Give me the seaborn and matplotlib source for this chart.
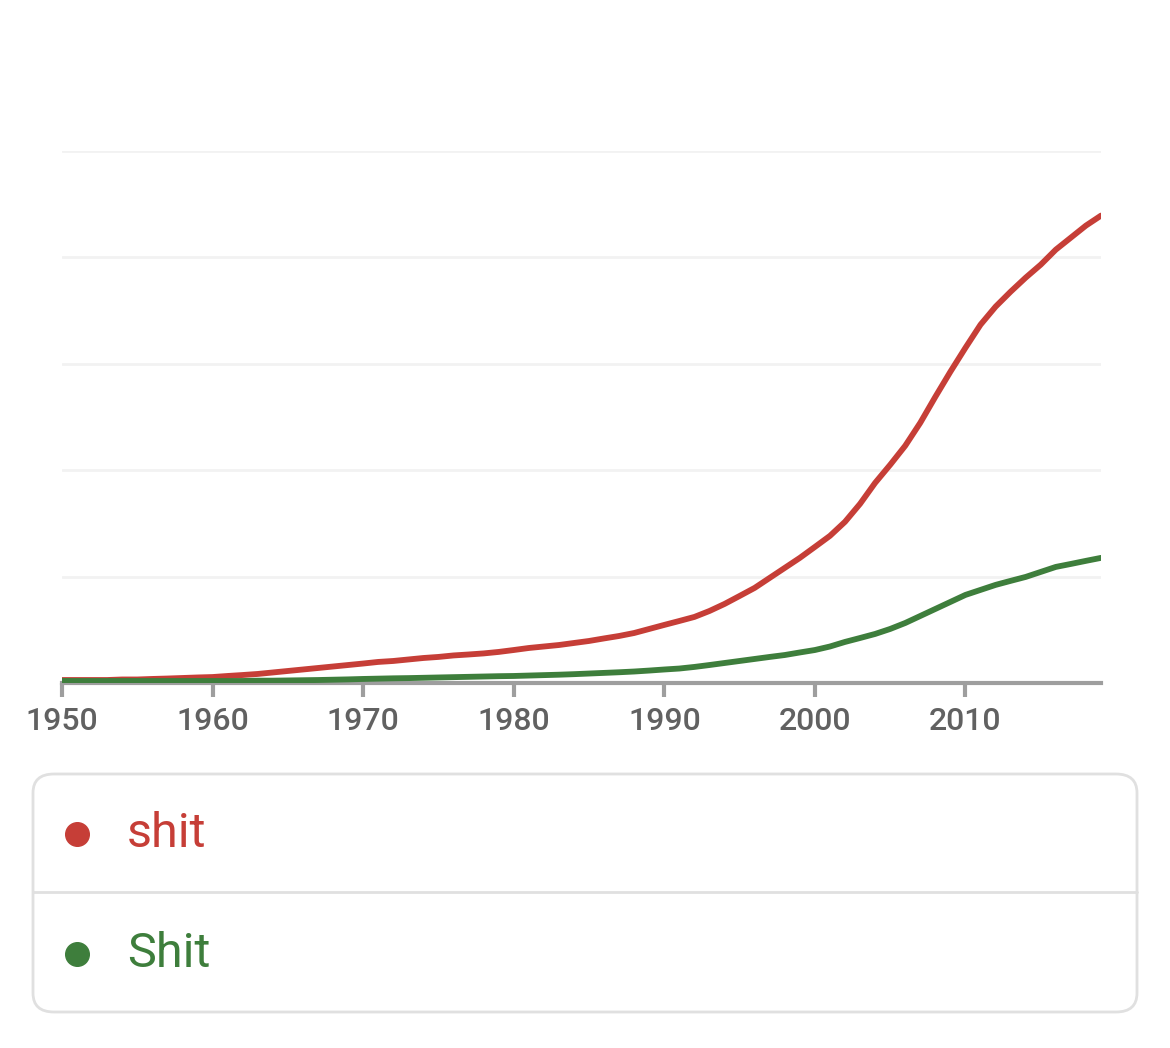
import matplotlib
matplotlib.use("Agg")
import matplotlib.pyplot as plt
from matplotlib.patches import FancyBboxPatch
from matplotlib.lines import Line2D
import seaborn as sns
import pandas as pd
import numpy as np

# yearly frequency (arbitrary units, one gridline = 1.0)
years = list(range(1950, 2020))
shit_lower = [
    0.028, 0.028, 0.028, 0.028, 0.033, 0.033, 0.038, 0.042, 0.047, 0.052,
    0.056, 0.066, 0.075, 0.085, 0.099, 0.113, 0.127, 0.141, 0.155, 0.169,
    0.183, 0.198, 0.207, 0.221, 0.235, 0.245, 0.259, 0.268, 0.278, 0.292,
    0.310, 0.329, 0.343, 0.357, 0.376, 0.395, 0.419, 0.442, 0.470, 0.508,
    0.546, 0.583, 0.621, 0.677, 0.743, 0.818, 0.894, 0.988, 1.082, 1.176,
    1.279, 1.383, 1.515, 1.684, 1.881, 2.051, 2.230, 2.446, 2.690, 2.926,
    3.151, 3.368, 3.537, 3.678, 3.810, 3.932, 4.073, 4.186, 4.299, 4.393,
]
shit_upper = [
    0.019, 0.019, 0.019, 0.019, 0.019, 0.019, 0.019, 0.019, 0.019, 0.019,
    0.019, 0.019, 0.019, 0.022, 0.022, 0.024, 0.026, 0.028, 0.031, 0.034,
    0.038, 0.041, 0.044, 0.046, 0.049, 0.052, 0.055, 0.058, 0.061, 0.064,
    0.066, 0.070, 0.074, 0.078, 0.083, 0.089, 0.095, 0.101, 0.108, 0.117,
    0.127, 0.136, 0.151, 0.169, 0.188, 0.207, 0.226, 0.245, 0.263, 0.287,
    0.310, 0.343, 0.386, 0.423, 0.461, 0.508, 0.564, 0.630, 0.696, 0.762,
    0.828, 0.875, 0.922, 0.960, 0.997, 1.044, 1.091, 1.119, 1.148, 1.176,
]
labels = ["shit", "Shit"]
colors = ["#c63e37", "#3e7e3c"]
x_ticks = [1950, 1960, 1970, 1980, 1990, 2000, 2010]
y_grid = [1, 2, 3, 4, 5]

df = pd.DataFrame({
    "year": years * 2,
    "freq": shit_lower + shit_upper,
    "ngram": [labels[0]] * len(years) + [labels[1]] * len(years),
})

sns.set_theme(style="white")
plt.rcParams["font.family"] = ["Roboto", "DejaVu Sans"]

fig = plt.figure(figsize=(11.7, 10.48), dpi=100)
ax = fig.add_axes([62 / 1170, 1 - 683 / 1048, (1101 - 62) / 1170, (683 - 151) / 1048])

for y in y_grid:
    ax.axhline(y, color="#f2f2f2", lw=2, zorder=0)

sns.lineplot(data=df, x="year", y="freq", hue="ngram", palette=dict(zip(labels, colors)),
             linewidth=4.2, legend=False, ax=ax, zorder=3)

ax.set_xlim(1950, 2019)
ax.set_ylim(0, 5)
ax.set_xlabel("")
ax.set_ylabel("")
ax.set_yticks([])
ax.set_xticks(x_ticks)
ax.set_xticklabels([str(t) for t in x_ticks], fontweight="medium")
ax.tick_params(axis="x", direction="out", length=10, width=3, color="#9e9e9e",
               labelsize=23, labelcolor="#616161", pad=7, bottom=True)
for side in ["top", "right", "left"]:
    ax.spines[side].set_visible(False)
ax.spines["bottom"].set_color("#9e9e9e")
ax.spines["bottom"].set_linewidth(3)
ax.spines["bottom"].set_zorder(2)

# legend box
W, H = 1170, 1048
box = FancyBboxPatch((33 / W, 1 - 1012 / H), (1137 - 33) / W, (1012 - 774) / H,
                     boxstyle="round,pad=0,rounding_size=0.018",
                     transform=fig.transFigure, facecolor="white",
                     edgecolor="#e0e0e0", linewidth=2)
fig.patches.append(box)
fig.add_artist(Line2D([33 / W, 1137 / W], [1 - 892 / H, 1 - 892 / H],
                      transform=fig.transFigure, color="#e0e0e0", lw=2))
for lbl, col, yc in zip(labels, colors, [834, 954]):
    fig.add_artist(Line2D([77 / W], [1 - yc / H], transform=fig.transFigure,
                          marker="o", markersize=17, color=col, linestyle="none"))
    fig.text(127 / W, 1 - yc / H, lbl, color=col, fontsize=35, va="center", ha="left")

fig.savefig("out.png", dpi=100, facecolor="white")
